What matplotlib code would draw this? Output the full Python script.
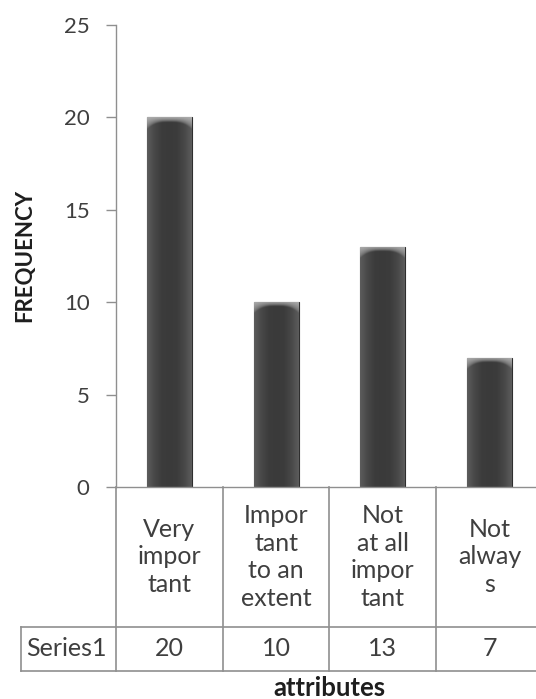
import numpy as np
import matplotlib
matplotlib.use("Agg")
import matplotlib.pyplot as plt
from matplotlib.colors import LinearSegmentedColormap

plt.rcParams["font.family"] = ["Lato", "DejaVu Sans"]

categories = ["Very\nimpor\ntant", "Impor\ntant\nto an\nextent", "Not\nat all\nimpor\ntant", "Not\nalway\ns"]
values = [20, 10, 13, 7]
series_name = "Series1"
y_ticks = [0, 5, 10, 15, 20, 25]

text_color = "#3f3f3f"
line_color = "#8f8f8f"

fig = plt.figure(figsize=(5.36, 6.99), dpi=100)
ax = fig.add_axes([0.2164, 0.3033, 0.7966, 0.6609])

x = np.arange(len(categories))
bars = ax.bar(x, values, width=0.42, color="#3d3d3d", edgecolor="#2e2e2e", linewidth=0.8, zorder=2)

# cylinder-like shading across each bar, lighter bevel at the top
body_cmap = LinearSegmentedColormap.from_list(
    "body", ["#5c5c5c", "#474747", "#3c3c3c", "#3a3a3a", "#3c3c3c", "#474747", "#5c5c5c"])
grad = np.linspace(0, 1, 64).reshape(1, -1)
bevel_h = 0.6
for bar in bars:
    x0, w, h = bar.get_x(), bar.get_width(), bar.get_height()
    im = ax.imshow(grad, cmap=body_cmap, extent=(x0, x0 + w, 0, h),
                   aspect="auto", zorder=2.1, interpolation="bicubic")
    im.set_clip_path(bar)
    # top bevel: light band fading downward, curved at the lower corners
    xs = np.linspace(-1, 1, 64)
    ys = np.linspace(0, 1, 32).reshape(-1, 1)
    reach = 0.4 + 0.6 * np.abs(xs) ** 3
    fade = np.clip(1 - ys / reach, 0, 1) ** 0.6
    rgba = np.zeros((32, 64, 4))
    rgba[..., :3] = 0.72
    rgba[..., 3] = fade * 0.9
    bv = ax.imshow(rgba, extent=(x0, x0 + w, h - bevel_h, h), origin="upper",
                   aspect="auto", zorder=2.2, interpolation="bicubic")
    bv.set_clip_path(bar)

ax.set_xlim(-0.5, len(categories) - 0.5)
ax.set_ylim(0, 25)
ax.set_yticks(y_ticks)
ax.tick_params(axis="y", length=7, width=1, color=line_color, labelsize=16,
               labelcolor=text_color, pad=12)
ax.set_xticks([])

for side in ["top", "right"]:
    ax.spines[side].set_visible(False)
for side in ["left", "bottom"]:
    ax.spines[side].set_color(line_color)
    ax.spines[side].set_linewidth(1)

# data table under the axis
row1 = -0.303
row2 = -0.398
left_edge = -1.39
trans = ax.get_xaxis_transform()
lw = 1.2
for b in np.arange(len(categories) + 1) - 0.5:
    ax.plot([b, b], [0, row2], transform=trans, color=line_color, lw=lw, clip_on=False)
ax.plot([left_edge, left_edge], [row1, row2], transform=trans, color=line_color, lw=lw, clip_on=False)
for yy in [row1, row2]:
    ax.plot([left_edge, len(categories) - 0.5], [yy, yy], transform=trans,
            color=line_color, lw=lw, clip_on=False)

for xi, label, val in zip(x, categories, values):
    ax.text(xi, row1 / 2, label, transform=trans, ha="center", va="center",
            fontsize=18, color=text_color, linespacing=1.24)
    ax.text(xi, (row1 + row2) / 2, str(val), transform=trans, ha="center", va="center",
            fontsize=18, color=text_color)
ax.text(-0.96, (row1 + row2) / 2, series_name, transform=trans,
        ha="center", va="center", fontsize=18, color=text_color)

fig.text(0.047, 0.634, "FREQUENCY", rotation=90, ha="center", va="center",
         fontsize=16, fontweight="bold", color="#1e1e1e")
ax.text(0.5, -0.452, "attributes", transform=ax.transAxes, ha="center", va="baseline",
        fontsize=18.5, fontweight="bold", color="#1e1e1e")

fig.savefig("out.png", dpi=100)
